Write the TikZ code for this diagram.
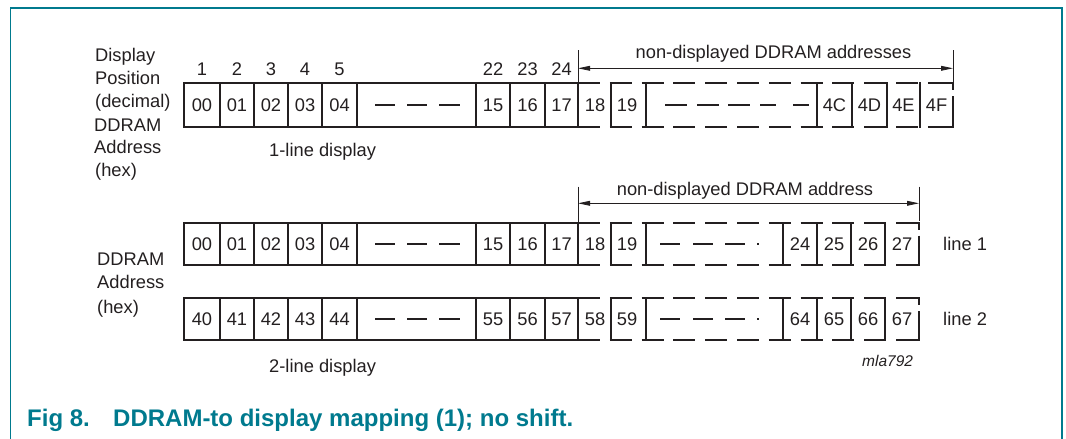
\documentclass[tikz,border=0pt]{standalone}
\usepackage{fontspec}
\setmainfont{Liberation Sans}
\usetikzlibrary{arrows.meta}
\definecolor{ink}{RGB}{35,31,32}
\definecolor{nxpteal}{RGB}{0,122,142}

% solid part of a DDRAM row: outer box, cell dividers and the "- - -" gap marks
\newcommand\solidpart[3]{%
  \draw[cellline] (184,#1) rectangle (578,#2);
  \foreach \x in {220,254,288,322,357,476,510,545}
    \draw[cellline] (\x,#1) -- (\x,#2);
  \foreach \a/\b in {375/395,407/427,439/460}
    \draw[cellline,line cap=butt] (\a,#3) -- (\b,#3);
}
% broken (non-displayed) part of a row: dashed top and bottom edges from x=578
% to #3, then a closing bracket at #4; #1 top, #2 bottom
\newcommand\brokenpart[4]{%
  \draw[cellline,line cap=butt,dash pattern=on 22pt off 9.8pt]
    (578,#1) -- (#3,#1) (578,#2) -- (#3,#2);
  \draw[cellline,line cap=butt] (#3,#1) -- (#4,#1) -- (#4,#1+7);
  \draw[cellline,line cap=butt] (#4,#1+13) -- (#4,#2) -- (#3,#2);
}

\begin{document}
\begin{tikzpicture}[x=1pt,y=-1pt,
  lbl/.style={font=\fontsize{18.3}{22}\selectfont, text=ink, inner sep=0pt},
  cellnum/.style={lbl, text height=13.1pt, text depth=0pt, anchor=center},
  cellline/.style={draw=ink, line width=2.1pt, line cap=rect},
  dimline/.style={draw=ink, line width=0.8pt},
  dimarrow/.style={dimline, {Triangle[length=12pt,width=4.8pt]}-{Triangle[length=12pt,width=4.8pt]}},
  caption/.style={font=\fontsize{24}{28}\selectfont\bfseries, text=nxpteal, inner sep=0pt, anchor=base west}
]
\useasboundingbox (0,0) rectangle (1066,439);

% frame
\draw[nxpteal, line width=1.5pt] (10.5,439) -- (10.5,8) -- (1062,8) -- (1062,439);

% ---------------- 1-line display ----------------
\solidpart{83.3}{126.7}{105}
\brokenpart{83.3}{126.7}{928}{953}
\foreach \x in {611,646,817,852,887,920}
  \draw[cellline] (\x,83.3) -- (\x,126.7);
\foreach \a/\b in {665/687,697/719,728/750,760/776,793/809}
  \draw[cellline,line cap=butt] (\a,105) -- (\b,105);

\foreach \t/\x [count=\i] in {00/202,01/237,02/271,03/305,04/339.5,15/493,16/527.5,17/561.5,18/595,19/627,4C/834.5,4D/869.5,4E/903.5,4F/936.5}
  \node[cellnum] (a\i) at (\x,105) {\t};

\foreach \t/\x in {1/202,2/237,3/271,4/305,5/339.5,22/493,23/527.5,24/561.5}
  \node[lbl, anchor=base] (pos\t) at (\x,75.5) {\t};

\node[lbl, anchor=base west] (disp)  at (95,61.7)  {Display};
\node[lbl, anchor=base west] (posn)  at (95,84.3)  {Position};
\node[lbl, anchor=base west] (dec)   at (95,107.3) {(decimal)};
\node[lbl, anchor=base west] (ddr1)  at (94,131.7) {DDRAM};
\node[lbl, anchor=base west] (adr1)  at (94,153.3) {Address};
\node[lbl, anchor=base west] (hex1)  at (95,176)   {(hex)};
\node[lbl, anchor=base west] (one)   at (269,156.7) {1-line display};

% non-displayed range, 1-line
\coordinate (d1lt) at (578,50);   \coordinate (d1lb) at (578,83.3);
\coordinate (d1rt) at (953,50);   \coordinate (d1rb) at (953,82);
\coordinate (d1l)  at (578,68.3); \coordinate (d1r)  at (953,68.3);
\draw[dimline] (d1lt) -- (d1lb);
\draw[dimline] (d1rt) -- (d1rb);
\draw[dimarrow] (d1l) -- (d1r);
\node[lbl, anchor=base] (nd1) at (773.5,58.5) {non-displayed DDRAM addresses};

% ---------------- 2-line display ----------------
\foreach \T/\B/\M in {222.7/265/243.85, 298/339.7/318.85}{
  \solidpart{\T}{\B}{\M}
  \brokenpart{\T}{\B}{898}{919}
  \foreach \x in {611,646,783,817,851,885}
    \draw[cellline] (\x,\T) -- (\x,\B);
  \foreach \a/\b in {660/680,693/713,725/745}
    \draw[cellline,line cap=butt] (\a,\M) -- (\b,\M);
  \fill[ink] (757.3,\M-1) rectangle (759.3,\M+1);
}

\foreach \t/\x [count=\i] in {00/202,01/237,02/271,03/305,04/339.5,15/493,16/527.5,17/561.5,18/595,19/627,24/800,25/834,26/868,27/902}
  \node[cellnum] (b\i) at (\x,243.85) {\t};
\foreach \t/\x [count=\i] in {40/202,41/237,42/271,43/305,44/339.5,55/493,56/527.5,57/561.5,58/595,59/627,64/800,65/834,66/868,67/902}
  \node[cellnum] (c\i) at (\x,318.85) {\t};

\node[lbl, anchor=base west] (ddr2) at (97,265.7) {DDRAM};
\node[lbl, anchor=base west] (adr2) at (97,288.3) {Address};
\node[lbl, anchor=base west] (hex2) at (97,313)   {(hex)};
\node[lbl, anchor=base west] (two)  at (269,372)  {2-line display};
\node[lbl, anchor=base west] (ln1)  at (943,250)  {line 1};
\node[lbl, anchor=base west] (ln2)  at (943,325.5) {line 2};

% non-displayed range, 2-line
\coordinate (d2lt) at (578,186.7); \coordinate (d2lb) at (578,222.7);
\coordinate (d2rt) at (919,186.7); \coordinate (d2rb) at (919,221);
\coordinate (d2l)  at (578,203.3); \coordinate (d2r)  at (919,203.3);
\draw[dimline] (d2lt) -- (d2lb);
\draw[dimline] (d2rt) -- (d2rb);
\draw[dimarrow] (d2l) -- (d2r);
\node[lbl, anchor=base] (nd2) at (745,195) {non-displayed DDRAM address};

\node[lbl, anchor=base west, font=\fontsize{15.5}{18}\selectfont\itshape] (code) at (862,366) {mla792};

% caption
\node[caption] (fig) at (27,426) {Fig 8.};
\node[caption] (cap) at (113,426) {DDRAM-to display mapping (1); no shift.};
\end{tikzpicture}
\end{document}
